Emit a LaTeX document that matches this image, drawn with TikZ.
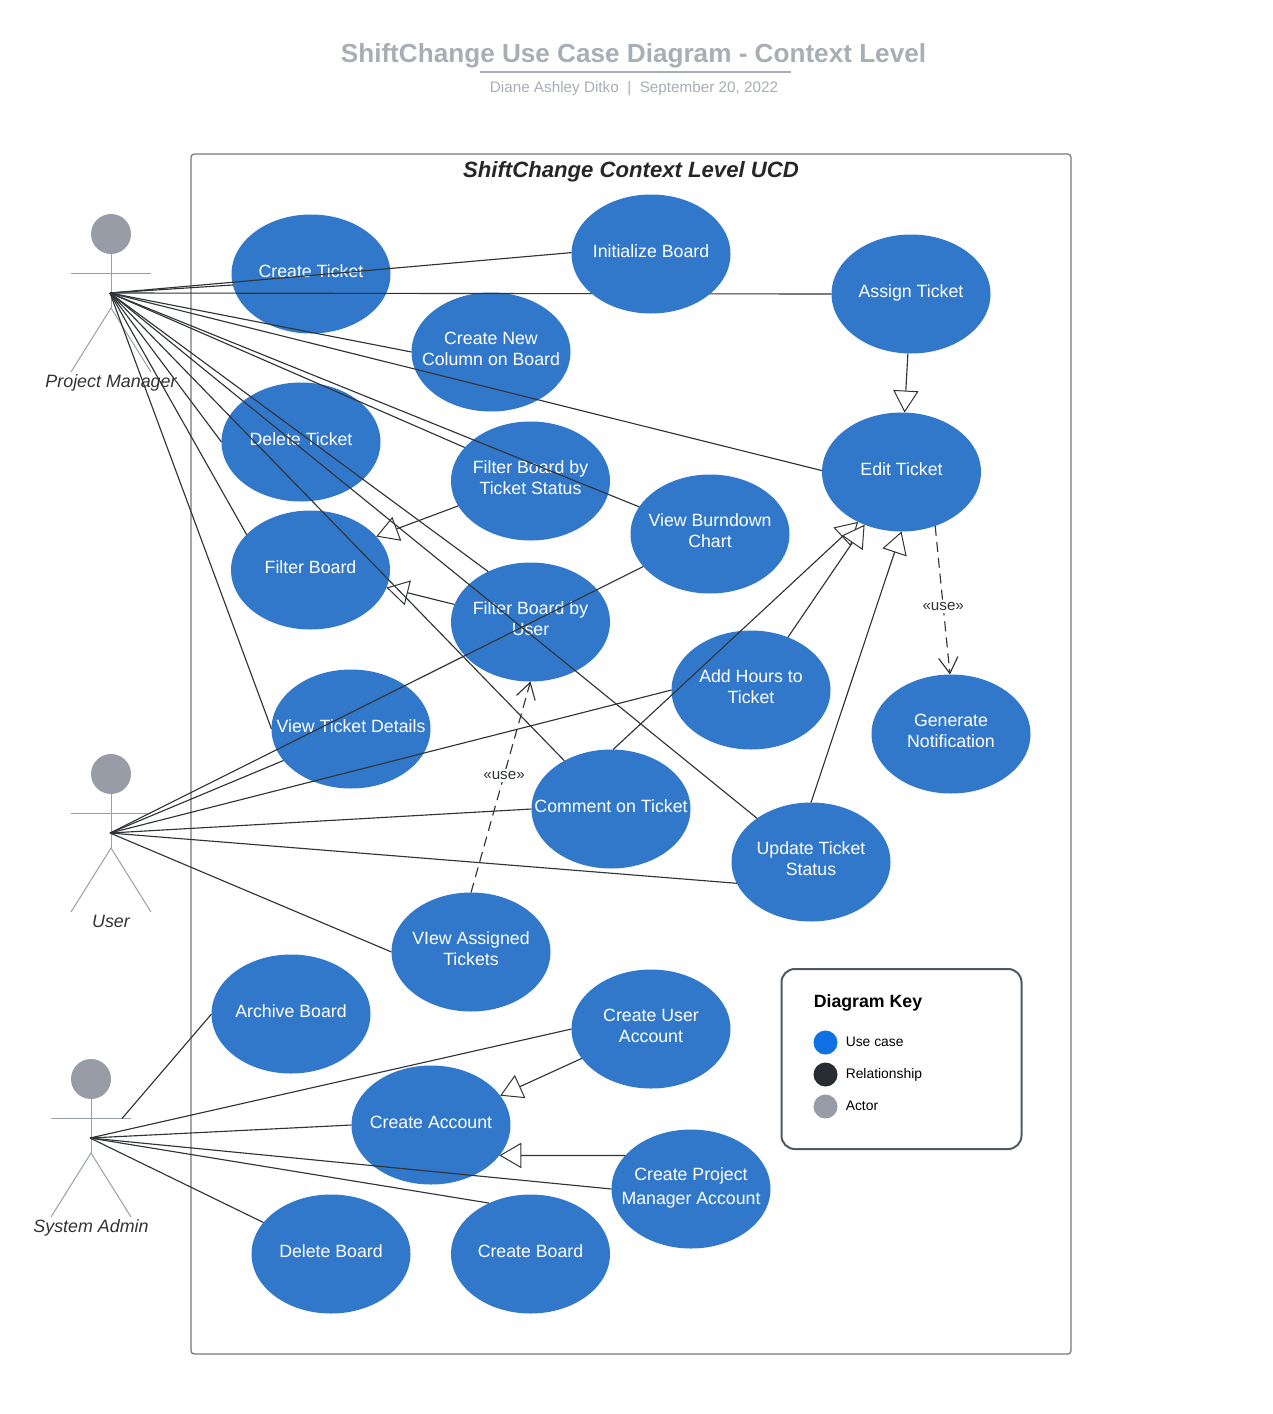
\documentclass[tikz,border=0pt]{standalone}
\usepackage{fontspec}
\setmainfont{Liberation Sans}
\usetikzlibrary{arrows.meta,shapes.geometric}
\definecolor{ucblue}{HTML}{3278CA}
\definecolor{linecol}{HTML}{303338}
\definecolor{framecol}{HTML}{74777C}
\definecolor{actorcol}{HTML}{979CA6}
\definecolor{actorline}{HTML}{9AA0A8}
\definecolor{titlecol}{HTML}{A9AEB5}
\definecolor{keyblue}{HTML}{1071E5}
\definecolor{keydark}{HTML}{282C33}
\definecolor{keyedge}{HTML}{515A63}
\newcommand{\uctext}[1]{\smash{\makebox[0pt][c]{\raisebox{-2.7pt}{\begin{tabular}[c]{@{}c@{}}#1\end{tabular}}}}}
\newcommand{\ucactor}[5]{%
  \node[headnode] (#1head) at (#2,#3) {};
  \coordinate (#1hip) at (#2,#3+74);
  \coordinate (#1ala) at (#2-40,#3+39);
  \coordinate (#1arb) at (#2+40,#3+39);
  \coordinate (#1lla) at (#2-40,#3+138);
  \coordinate (#1llb) at (#2+40,#3+138);
  \draw[stick] (#1head) -- (#1hip);
  \draw[stick] (#1ala) -- (#1arb);
  \draw[stick] (#1lla) -- (#1hip) -- (#1llb);
  \node[actorlabel] (#1label) at (#2,#3+153) {#4};
}
\begin{document}
\begin{tikzpicture}[x=0.75pt,y=-0.75pt,
  uc/.style={ellipse,fill=ucblue,draw=none,minimum width=119.25pt,minimum height=89.25pt,inner sep=0pt,outer sep=0pt,text=white,font=\fontsize{13.3}{15.75}\selectfont},
  assoc/.style={draw=linecol,line width=0.85pt},
  general/.style={draw=linecol,line width=0.85pt,-{Triangle[length=16.5pt,width=19pt,fill=white,line width=0.75pt]}},
  include/.style={draw=linecol,line width=0.85pt,dash pattern=on 7.5pt off 4.5pt,-{Straight Barb[length=12pt,width=14.5pt,line width=0.85pt]}},
  uselabel/.style={fill=white,inner sep=1.5pt,text=linecol,font=\fontsize{11.4}{13}\selectfont},
  headnode/.style={circle,fill=actorcol,draw=none,minimum size=30pt,inner sep=0pt,outer sep=0pt},
  stick/.style={draw=actorline,line width=0.75pt},
  actorlabel/.style={anchor=base,text=black!80,inner sep=0pt,font=\fontsize{13.4}{16}\selectfont\itshape},
  keycircle/.style={circle,minimum size=18pt,inner sep=0pt,draw=none},
  keylabel/.style={anchor=base west,inner sep=0pt,font=\fontsize{10.4}{12}\selectfont}]
\useasboundingbox (0,0) rectangle (1272,1414);
\fill[white] (0,0) rectangle (1272,1414);

% titles
\node[anchor=base,text=titlecol,inner sep=0pt,font=\fontsize{19.6}{23}\selectfont\bfseries] (title) at (633.5,62.3) {ShiftChange Use Case Diagram - Context Level};
\coordinate (ula) at (480,71.5);
\coordinate (ulb) at (791,71.5);
\draw[draw=titlecol,line width=1.5pt] (ula) -- (ulb);
\node[anchor=base,text=titlecol,inner sep=0pt,font=\fontsize{11.45}{13}\selectfont] (subtitle) at (634,92.5) {Diane Ashley Ditko\ \ |\ \ September 20, 2022};

% system boundary
\draw[draw=framecol,line width=0.95pt,rounded corners=2.5pt] (191,154) rectangle (1071,1354);
\node[anchor=base,text=black!85,inner sep=0pt,font=\fontsize{16.6}{20}\selectfont\bfseries\itshape] (frametitle) at (631,177.5) {ShiftChange Context Level UCD};

% actors
\ucactor{pm}{111}{234}{Project Manager}{}
\ucactor{usr}{111}{774}{User}{}
\ucactor{adm}{91}{1079}{System Admin}{}
\coordinate (pmhub) at (110,293);
\coordinate (usrhub) at (110,833);
\coordinate (admhub) at (90,1138);
\coordinate (admarm) at (122,1118.5);

% use cases
\node[uc] (createticket) at (311,274) {\uctext{Create Ticket}};
\node[uc] (assign) at (911,294) {\uctext{Assign Ticket}};
\node[uc] (createcol) at (491,352) {\uctext{Create New\\Column on Board}};
\node[uc] (edit) at (901.5,472) {\uctext{Edit Ticket}};
\node[uc] (deleteticket) at (301,442) {\uctext{Delete Ticket}};
\node[uc] (fstatus) at (530.5,481) {\uctext{Filter Board by\\Ticket Status}};
\node[uc] (burndown) at (710,534) {\uctext{View Burndown\\Chart}};
\node[uc] (fboard) at (310.5,570) {\uctext{Filter Board}};
\node[uc] (fuser) at (530.5,622) {\uctext{Filter Board by\\User}};
\node[uc] (details) at (351,729) {\uctext{View Ticket Details}};
\node[uc] (hours) at (751,690) {\uctext{Add Hours to\\Ticket}};
\node[uc] (notify) at (951,734) {\uctext{Generate\\Notification}};
\node[uc] (comment) at (611,809) {\uctext{Comment on Ticket}};
\node[uc] (update) at (811,862) {\uctext{Update Ticket\\Status}};
\node[uc] (assigned) at (471,952) {\uctext{VIew Assigned\\Tickets}};
\node[uc] (archive) at (291,1014) {\uctext{Archive Board}};
\node[uc] (cuser) at (651,1029) {\uctext{Create User\\Account}};
\node[uc] (caccount) at (431,1125) {\uctext{Create Account}};
\node[uc] (cpm) at (691,1189) {\uctext{Create Project\\[2.25pt]Manager Account}};
\node[uc] (delboard) at (331,1254) {\uctext{Delete Board}};
\node[uc] (cboard) at (530.5,1254) {\uctext{Create Board}};

% this one runs behind Initialize Board
\draw[assoc] (pmhub) -- (assign.180);
\node[uc] (init) at (651,254) {\uctext{Initialize Board}};

% generalizations
\draw[general] (assign.267) -- (edit.87);
\draw[general] (fstatus.199) -- (fboard.27);
\draw[general] (fuser.167) -- (fboard.347.5);
\draw[general] (comment.88) -- (edit.229);
\draw[general] (hours.55.6) -- (edit.235.6);
\draw[general] (update.90) -- (edit.270);
\draw[general] (cuser.203.6) -- (caccount.23.7);
\draw[general] (cpm.153.8) -- (caccount.336.1);

% includes
\draw[include] (assigned.90) -- node[pos=0.555,uselabel] (usea) {«use»} (fuser.270);
\draw[include] (edit.302.6) -- node[pos=0.544,uselabel] (useb) {«use»} (notify.91);

% project manager associations
\draw[assoc] (pmhub) -- (init.179);
\draw[assoc] (pmhub) -- (createticket.188);
\draw[assoc] (pmhub) -- (createcol.180);
\draw[assoc] (pmhub) -- (edit.179);
\draw[assoc] (pmhub) -- (burndown.159.1);
\draw[assoc] (pmhub) -- (fstatus.153.4);
\draw[assoc] (pmhub) -- (deleteticket.180);
\draw[assoc] (pmhub) -- (fboard.151);
\draw[assoc] (pmhub) -- (details.180);
\draw[assoc] (pmhub) -- (fuser.130.5);
\draw[assoc] (pmhub) -- (comment.134.4);
\draw[assoc] (pmhub) -- (update.141.2);

% user associations
\draw[assoc] (usrhub) -- (burndown.206.9);
\draw[assoc] (usrhub) -- (details.205.6);
\draw[assoc] (usrhub) -- (hours.180);
\draw[assoc] (usrhub) -- (comment.180);
\draw[assoc] (usrhub) -- (update.196.7);
\draw[assoc] (usrhub) -- (assigned.180);

% admin associations
\draw[assoc] (admarm) -- (archive.180);
\draw[assoc] (admhub) -- (cuser.180);
\draw[assoc] (admhub) -- (caccount.180);
\draw[assoc] (admhub) -- (cpm.180);
\draw[assoc] (admhub) -- (cboard.129.1);
\draw[assoc] (admhub) -- (delboard.155.6);

% key
\draw[draw=keyedge,line width=1.5pt,rounded corners=10pt] (781.5,969) rectangle (1021.5,1149);
\node[anchor=base west,inner sep=0pt,font=\fontsize{13.3}{16}\selectfont\bfseries] (keytitle) at (813.5,1007) {Diagram Key};
\node[keycircle,fill=keyblue] (keya) at (825.5,1042.5) {};
\node[keycircle,fill=keydark] (keyb) at (825.5,1074.5) {};
\node[keycircle,fill=actorcol] (keyc) at (825.5,1106.5) {};
\node[keylabel] (keyta) at (845.5,1046.3) {Use case};
\node[keylabel] (keytb) at (845.5,1078.3) {Relationship};
\node[keylabel] (keytc) at (845.5,1110.3) {Actor};
\end{tikzpicture}
\end{document}
